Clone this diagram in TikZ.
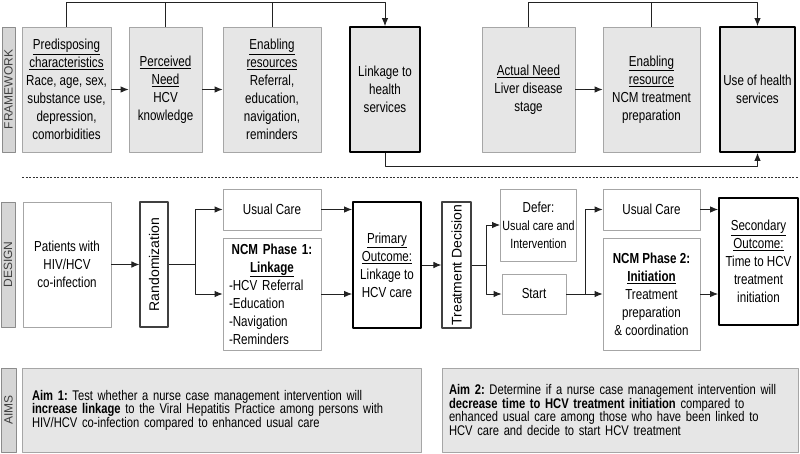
\documentclass[tikz,border=0pt]{standalone}
\usepackage{fontspec}
\setmainfont{Liberation Sans}[FakeStretch=0.8]
\newfontfamily\widesans{Liberation Sans}
\usetikzlibrary{arrows.meta}
\definecolor{boxgray}{HTML}{E6E6E6}
\definecolor{edgegray}{HTML}{A6A6A6}
\definecolor{labgray}{HTML}{D6D6D6}
\definecolor{linegray}{HTML}{222222}
\newcommand{\mainsize}{\fontsize{14.5}{18}\selectfont}
\newcommand{\smallsize}{\fontsize{13.4}{16.5}\selectfont}
\frenchspacing
\begin{document}
\begin{tikzpicture}[x=1pt,y=-1pt,font=\mainsize,line join=round,>={Latex[length=8pt,width=6.5pt]},
	fbox/.style={draw=edgegray,fill=boxgray,line width=0.8pt,align=center,inner sep=2pt,minimum height=125},
	hbox/.style={draw=black,fill=boxgray,line width=1.8pt,align=center,inner sep=2pt,minimum height=125},
	dbox/.style={draw=edgegray,fill=white,line width=0.8pt,align=center,inner sep=2pt},
	rbox/.style={draw=black!75,fill=white,line width=1.1pt,inner sep=1pt,minimum height=125},
	obox/.style={draw=black,fill=white,line width=1.8pt,align=center,inner sep=2pt},
	lab/.style={draw=black!45,fill=labgray,line width=0.8pt,inner sep=0pt,text=black!75,font=\widesans\fontsize{12}{14}\selectfont},
	aimbox/.style={draw=edgegray,fill=boxgray,line width=0.8pt,align=left,minimum height=84,font=\fontsize{14}{13.6}\selectfont},
	conn/.style={draw=linegray,line width=0.9pt},
	sep/.style={draw=black!80,line width=0.7pt,dash pattern=on 2pt off 1.5pt}]
\useasboundingbox (0,0) rectangle (800,453);
% framework
\node[lab,minimum width=13,minimum height=125] (lblF) at (8.5,89.5) {\rotatebox{90}{FRAMEWORK}};
\node[fbox,minimum width=89] (pre) at (66.5,89.5) {\underline{Predisposing}\\ \underline{characteristics}\\ Race, age, sex,\\ substance use,\\ depression,\\ comorbidities};
\node[fbox,minimum width=73] (per) at (165.5,89.5) {\underline{Perceived}\\ \underline{Need}\\ HCV\\ knowledge};
\node[fbox,minimum width=98] (ena) at (272,89.5) {\underline{Enabling}\\ \underline{resources}\\ Referral,\\ education,\\ navigation,\\ reminders};
\node[hbox,minimum width=70] (lnk) at (385,89.5) {Linkage to\\ health\\ services};
\node[fbox,minimum width=93] (act) at (528.5,89.5) {\underline{Actual Need}\\ Liver disease\\ stage};
\node[fbox,minimum width=97] (enr) at (651.5,89.5) {\underline{Enabling}\\ \underline{resource}\\ NCM treatment\\ preparation};
\node[hbox,minimum width=75] (use) at (757.5,89.5) {Use of health\\ services};
\coordinate (top) at (0,2);
\coordinate (bot) at (0,166);
\draw[conn,->] (pre.north) -- (pre.north |- top) -- (lnk.north |- top) -- (lnk.north);
\draw[conn] (per.north) -- (per.north |- top);
\draw[conn] (ena.north) -- (ena.north |- top);
\draw[conn,->] (act.north) -- (act.north |- top) -- (use.north |- top) -- (use.north);
\draw[conn] (enr.north) -- (enr.north |- top);
\draw[conn,->] (lnk.south) -- (lnk.south |- bot) -- (use.south |- bot) -- (use.south);
\draw[conn,->] (pre) -- (per);
\draw[conn,->] (per) -- (ena);
\draw[conn,->] (act) -- (enr);
% separator
\coordinate (dl) at (22,177);
\coordinate (dr) at (798,177);
\draw[sep] (dl) -- (dr);
% design
\node[lab,minimum width=14,minimum height=125] (lblD) at (8,264.5) {\rotatebox{90}{DESIGN}};
\node[dbox,minimum width=88,minimum height=125] (pat) at (67,264.5) {Patients with\\ HIV/HCV\\ co-infection};
\node[rbox,minimum width=28] (rnd) at (154,264.5) {\rotatebox{90}{\widesans\fontsize{14}{16}\selectfont Randomization}};
\node[dbox,minimum width=98,minimum height=41] (uc1) at (272,209.5) {Usual Care};
\node[dbox,minimum width=98,minimum height=112,text width=86,align=left] (ncm1) at (272,294) {{\centering\textbf{NCM Phase 1:}\\ \textbf{\underline{Linkage}}\par}-HCV Referral\\ -Education\\ -Navigation\\ -Reminders};
\node[obox,minimum width=68,minimum height=126] (pri) at (387,265) {\underline{Primary}\\ \underline{Outcome:}\\ Linkage to\\ HCV care};
\node[rbox,minimum width=29,minimum height=126] (td) at (456.5,265) {\rotatebox{90}{\widesans\fontsize{14}{16}\selectfont Treatment Decision}};
\node[dbox,minimum width=73,minimum height=72] (def) at (538.5,225) {Defer:\\ {\smallsize Usual care and}\\ {\smallsize Intervention}};
\node[dbox,minimum width=64,minimum height=40] (sta) at (534,294) {Start};
\node[dbox,minimum width=97,minimum height=41] (uc2) at (651.5,209.5) {Usual Care};
\node[dbox,minimum width=97,minimum height=112] (ncm2) at (651.5,294) {\textbf{NCM Phase 2:}\\ \textbf{\underline{Initiation}}\\ Treatment\\ preparation\\ \& coordination};
\node[obox,minimum width=79,minimum height=127] (sec) at (758.5,261.5) {\underline{Secondary}\\ \underline{Outcome:}\\ Time to HCV\\ treatment\\ initiation};
\coordinate (s1) at (195,264.5);
\coordinate (s2) at (486,265);
\coordinate (s3) at (585,294);
\draw[conn,->] (pat) -- (rnd);
\draw[conn] (rnd) -- (s1);
\draw[conn,->] (s1) |- (uc1);
\draw[conn,->] (s1) |- (ncm1);
\draw[conn,->] (uc1.east) -- (uc1.east -| pri.west);
\draw[conn,->] (ncm1.east) -- (ncm1.east -| pri.west);
\draw[conn,->] (pri) -- (td);
\draw[conn] (td) -- (s2);
\draw[conn,->] (s2) |- (def);
\draw[conn,->] (s2) |- (sta);
\draw[conn] (sta) -- (s3);
\draw[conn,->] (s3) |- (uc2);
\draw[conn,->] (s3) -- (ncm2);
\draw[conn,->] (uc2.east) -- (uc2.east -| sec.west);
\draw[conn,->] (ncm2.east) -- (ncm2.east -| sec.west);
% aims
\node[lab,minimum width=15,minimum height=84] (lblA) at (8.5,410) {\rotatebox{90}{AIMS}};
\node[aimbox,minimum width=399,text width=379,inner sep=10] (aim1) at (221.5,410) {\textbf{Aim 1:} Test whether a nurse case management intervention will\\ \textbf{increase linkage} to the Viral Hepatitis Practice among persons with\\ HIV/HCV co-infection compared to enhanced usual care};
\node[aimbox,minimum width=356,text width=342,inner sep=7] (aim2) at (620,410) {\textbf{Aim 2:} Determine if a nurse case management intervention will\\ \textbf{decrease time to HCV treatment initiation} compared to\\ enhanced usual care among those who have been linked to\\ HCV care and decide to start HCV treatment};
\end{tikzpicture}
\end{document}
